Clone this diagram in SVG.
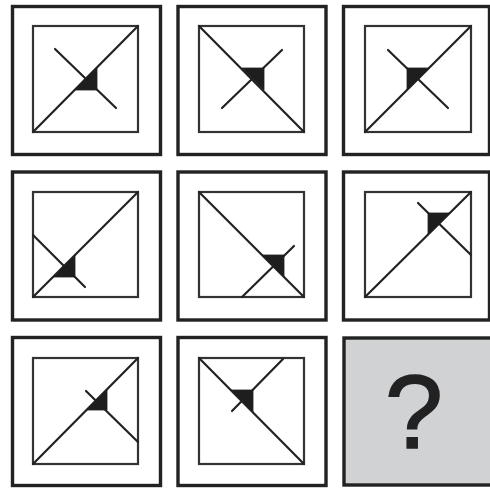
<svg xmlns="http://www.w3.org/2000/svg" width="490" height="488" viewBox="0 0 490 488">
<style>
.outer{fill:#fff;stroke:#222;stroke-width:3.4}
.inner{fill:none;stroke:#333;stroke-width:2.2}
.ln{stroke:#222;stroke-width:2.2;stroke-linecap:round;fill:none}
.tri{fill:#1e1e1e;stroke:#1e1e1e;stroke-width:0.8;stroke-linejoin:round}
.q{font-family:"Liberation Sans",Arial,sans-serif;font-size:104px;fill:#222;stroke:#222;stroke-width:1.6;text-anchor:middle}
</style>
<rect width="490" height="488" fill="#fff"/>
<g id="cell1">
<rect class="outer" x="12.5" y="6.5" width="148" height="148"/>
<rect class="inner" x="33" y="26" width="105" height="106"/>
<line class="ln" x1="33" y1="132" x2="138" y2="26"/>
<line class="ln" x1="55" y1="49" x2="116" y2="108"/>
<polygon class="tri" points="75,90 97,68 97,90"/>
</g>
<g id="cell2">
<rect class="outer" x="178" y="6.5" width="148" height="148"/>
<rect class="inner" x="199" y="26" width="105" height="106"/>
<line class="ln" x1="199" y1="26" x2="304" y2="132"/>
<line class="ln" x1="222" y1="108" x2="282" y2="50"/>
<polygon class="tri" points="242,68 264,68 264,90"/>
</g>
<g id="cell3">
<rect class="outer" x="343.5" y="6.5" width="146" height="148"/>
<rect class="inner" x="365" y="26" width="106" height="106"/>
<line class="ln" x1="365" y1="132" x2="471" y2="26"/>
<line class="ln" x1="388" y1="50" x2="448" y2="108"/>
<polygon class="tri" points="407,90 429,68 407,68"/>
</g>
<g id="cell4">
<rect class="outer" x="12.5" y="172" width="148" height="148"/>
<rect class="inner" x="33" y="192" width="105" height="105"/>
<line class="ln" x1="33" y1="297" x2="138" y2="192"/>
<line class="ln" x1="33" y1="235" x2="85" y2="287"/>
<polygon class="tri" points="53,277 75,255 75,277"/>
</g>
<g id="cell5">
<rect class="outer" x="178" y="172" width="148" height="148"/>
<rect class="inner" x="199" y="192" width="105" height="105"/>
<line class="ln" x1="199" y1="192" x2="304" y2="297"/>
<line class="ln" x1="242" y1="297" x2="294" y2="246"/>
<polygon class="tri" points="262,255 284,255 284,277"/>
</g>
<g id="cell6">
<rect class="outer" x="343.5" y="172" width="146" height="148"/>
<rect class="inner" x="365" y="192" width="106" height="105"/>
<line class="ln" x1="365" y1="297" x2="471" y2="192"/>
<line class="ln" x1="418" y1="203" x2="471" y2="255"/>
<polygon class="tri" points="428,234 449,213 428,213"/>
</g>
<g id="cell7">
<rect class="outer" x="12.5" y="337.5" width="148" height="148"/>
<rect class="inner" x="33" y="358" width="105" height="106"/>
<line class="ln" x1="33" y1="464" x2="138" y2="358"/>
<line class="ln" x1="86" y1="391" x2="138" y2="442"/>
<polygon class="tri" points="87,410 107,390 107,410"/>
</g>
<g id="cell8">
<rect class="outer" x="178" y="337.5" width="148" height="148"/>
<rect class="inner" x="199" y="358" width="105" height="106"/>
<line class="ln" x1="199" y1="358" x2="304" y2="464"/>
<line class="ln" x1="232" y1="411" x2="283" y2="359"/>
<polygon class="tri" points="231,390 253,390 253,412"/>
</g>
<g id="cell9">
<rect x="344" y="338" width="150" height="147" fill="#d1d2d4" stroke="#222" stroke-width="3.4"/>
<text class="q" x="414" y="448">?</text>
</g>
</svg>
